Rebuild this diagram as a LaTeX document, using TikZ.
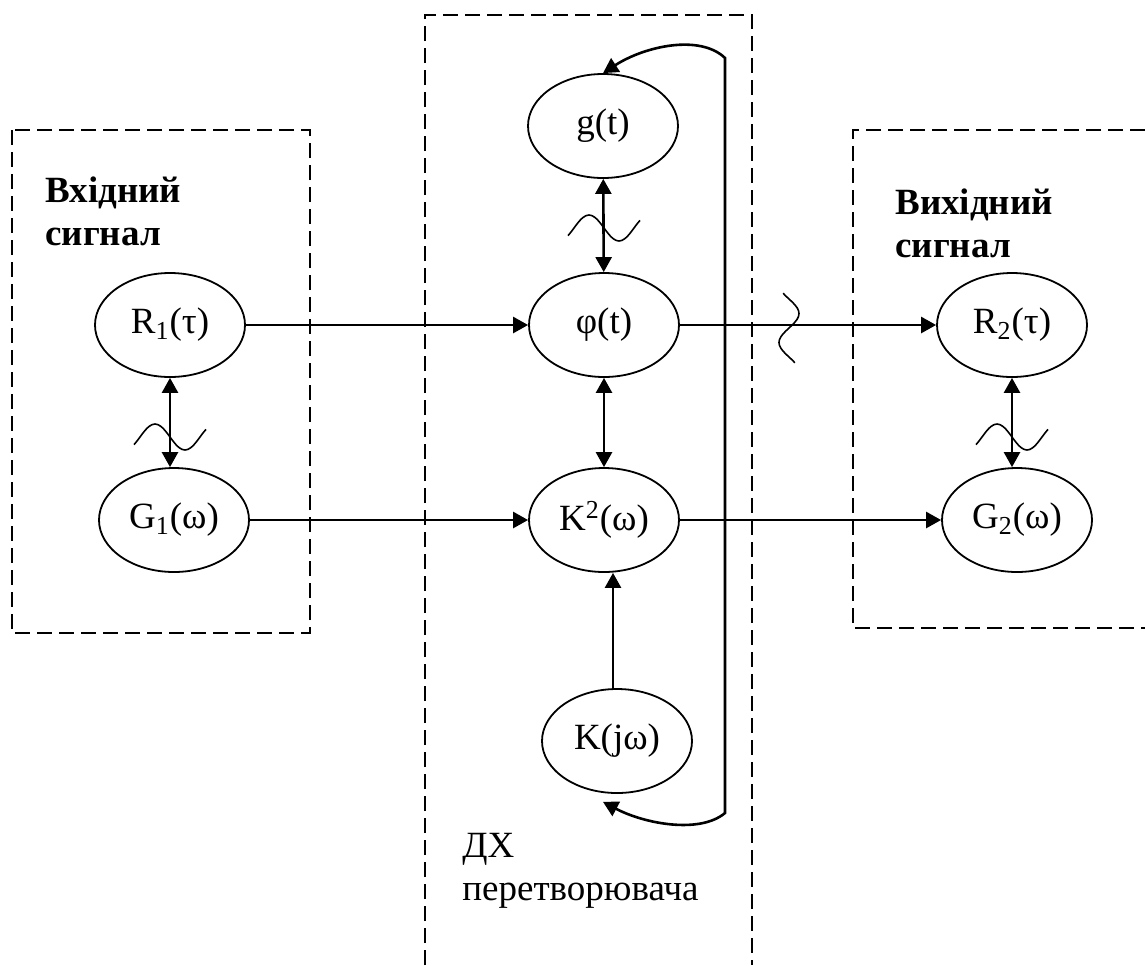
\documentclass[tikz,border=0pt]{standalone}
\usepackage{fontspec}
\setmainfont{Liberation Serif}
\usetikzlibrary{shapes.geometric,arrows.meta}

\begin{document}
\begin{tikzpicture}[x=0.5pt,y=-0.5pt,
  every node/.style={align=left,inner sep=0pt,font=\fontsize{18.5}{21.5}\selectfont},
  blk/.style={shape=ellipse,draw,line width=0.9pt,minimum width=75pt,minimum height=52pt},
  frame/.style={line width=0.8pt,dash pattern=on 7.5pt off 3.5pt},
  link/.style={line width=1.3pt,-{Triangle[length=7.5pt,width=8pt]}},
  dlink/.style={line width=1.3pt,{Triangle[length=7.5pt,width=8pt]}-{Triangle[length=7.5pt,width=8pt]}}]
\useasboundingbox (0,0) rectangle (1145,965);

% dashed frames
\draw [frame] (12,130) rectangle (310,633);
\draw [frame] (425,965) -- (425,15) -- (752,15) -- (752,965);
\draw [frame] (1145,130) -- (853,130) -- (853,628) -- (1145,628);

\node (r1) [blk] at (170,325) {R\textsubscript{1}(τ)};
\node (g1) [blk] at (174,520) {G\textsubscript{1}(ω)};
\node (g) [blk] at (603,126) {g(t)};
\node (phi) [blk] at (604,325) {φ(t)};
\node (k2) [blk] at (604,520) {K\textsuperscript{2}(ω)};
\node (kjw) [blk] at (617,741) {K(jω)};
\node (r2) [blk] at (1012,325) {R\textsubscript{2}(τ)};
\node (g2) [blk] at (1017,520) {G\textsubscript{2}(ω)};

\node (inlbl) [anchor=base west] at (45,245) {\textbf{Вхідний}\\\textbf{сигнал}};
\node (outlbl) [anchor=base west] at (895,257) {\textbf{Вихідний}\\\textbf{сигнал}};
\node (dxlbl) [anchor=base west] at (462,900) {ДХ\\перетворювача};

\draw [link] (r1) -- (phi);
\draw [link] (g1) -- (k2);
\draw [link] (phi) -- (r2);
\draw [link] (k2) -- (g2);
\draw [link] ([xshift=-2pt]kjw.north) -- ([xshift=-2pt]kjw.north |- k2.south);

\draw [dlink] (r1.south) -- (r1.south |- g1.north);
\draw [dlink] (g) -- (phi);
\draw [dlink] (phi) -- (k2);
\draw [dlink] (r2.south) -- (r2.south |- g2.north);

% feedback bracket
\coordinate (fbt) at (725,58);
\coordinate (fbb) at (725,813);
\draw [dlink] (g.north) .. controls (645,46) and (700,34) .. (fbt) -- (fbb)
  .. controls (700,834) and (645,824) .. ([xshift=-7pt,yshift=-4pt]kjw.south);

% tildes
\foreach \xy in {(170,437),(604,228),(1012,437)}
  \draw [line width=0.8pt,shift={\xy}]
    plot [domain=-1.2:1.2,smooth,samples=25] ({30*\x},{13*sin(180*\x)});
\draw [line width=0.8pt,shift={(789,328)}]
  plot [domain=-1.2:1.2,smooth,samples=25] ({-10*sin(180*\x)},{29*\x});
\end{tikzpicture}
\end{document}
